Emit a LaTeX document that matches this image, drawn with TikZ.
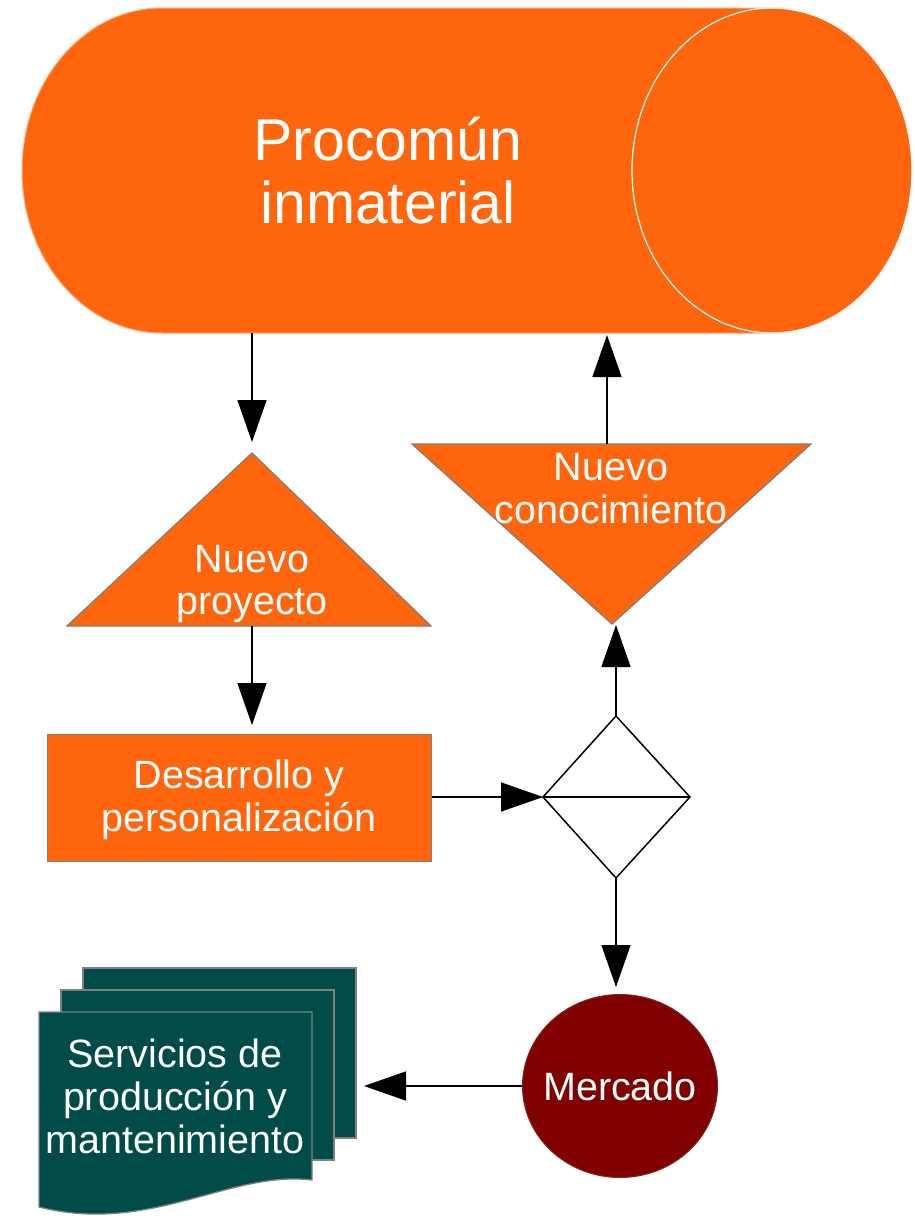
\documentclass[tikz,border=0pt]{standalone}
\usepackage{fontspec}
\setmainfont{Liberation Sans}
\usetikzlibrary{arrows.meta,shapes.geometric}
\definecolor{orng}{RGB}{255,101,13}
\definecolor{teal2}{RGB}{1,76,72}
\definecolor{mred}{RGB}{128,0,0}
\definecolor{edge}{RGB}{135,125,115}
\tikzset{
  lbl/.style={text=white, align=center, inner sep=0pt, font=\fontsize{39.5}{43}\selectfont},
  biglbl/.style={text=white, align=center, inner sep=0pt, font=\fontsize{59}{63}\selectfont},
  conn/.style={line width=1.5pt, -{Triangle[length=42pt,width=29pt]}},
  shp/.style={fill=orng, draw=edge, line width=1.3pt},
  docshp/.style={fill=teal2, draw=gray, line width=1.3pt},
}
\begin{document}
\begin{tikzpicture}[x=1pt,y=-1pt]
\useasboundingbox (0,0) rectangle (914,1219);
% cylinder
\fill[orng] (162,8) -- (772,8) arc[start angle=-90, end angle=90, x radius=140, y radius=162.5]
  -- (162,333) arc[start angle=90, end angle=270, x radius=140, y radius=162.5] -- cycle;
\draw[orng!55!white, line width=1pt] (162,8) -- (772,8) arc[start angle=-90, end angle=90, x radius=140, y radius=162.5]
  -- (162,333) arc[start angle=90, end angle=270, x radius=140, y radius=162.5] -- cycle;
\draw[white, line width=1.2pt] (772,170.5) ellipse[x radius=140, y radius=162.5];
\node[biglbl] (cyl) at (388,171) {Procomún\\inmaterial};
\coordinate (cylA) at (252,333);
\coordinate (cylB) at (607,333);
% Nuevo proyecto triangle
\draw[shp] (252,453) -- (431,626) -- (67,626) -- cycle;
\coordinate (npTop) at (252,453);
\coordinate (npBot) at (252,626);
\node[lbl] (np) at (252,584) {Nuevo\\proyecto};
% Nuevo conocimiento inverted triangle
\draw[shp] (412,444) -- (811,444) -- (612,624) -- cycle;
\coordinate (ncTop) at (607,444);
\coordinate (ncBot) at (616,624);
\node[lbl] (nc) at (611,489) {Nuevo\\conocimiento};
% rectangle
\node[shp, rectangle, minimum width=384pt, minimum height=127pt, anchor=north west, inner sep=0pt] (dev) at (47,734) {};
\node[lbl] (devt) at (239,800) {Desarrollo y\\personalización};
% diamond
\draw[line width=1.5pt, line join=miter] (543,797) -- (616,716) -- (690,797) -- (616,878) -- cycle;
\draw[line width=1.5pt] (543,797) -- (690,797);
\coordinate (dW) at (543,797);
\coordinate (dN) at (616,716);
\coordinate (dS) at (616,878);
% Mercado
\node[ellipse, fill=mred, draw=mred!70!gray, line width=1pt, minimum width=195pt, minimum height=183pt, inner sep=0pt] (mer) at (620,1086) {};
\node[lbl] (mert) at (620,1086) {Mercado};
% document stack
\draw[docshp] (83,968) rectangle (356,1138);
\draw[docshp] (61,990) rectangle (334,1160);
\draw[docshp] (39,1012) -- (312,1012) -- (312,1180) .. controls (230,1170) and (150,1235) .. (39,1207) -- cycle;
\coordinate (docE) at (356,1086);
\node[lbl] (doct) at (175,1096) {Servicios de\\producción y\\mantenimiento};
% connectors
\draw[conn, shorten >=11pt] (cylA) -- (npTop);
\draw[conn, shorten >=9pt] (npBot) -- (dev.north -| npBot);
\draw[conn] (dev.east |- dW) -- (dW);
\draw[conn, shorten >=1pt] (dN) -- (ncBot);
\draw[conn, shorten >=2pt] (ncTop) -- (cylB);
\draw[conn, shorten >=7pt] (dS) -- (mer.north -| dS);
\draw[conn, shorten >=8pt] (mer.west) -- (docE);
\end{tikzpicture}
\end{document}
